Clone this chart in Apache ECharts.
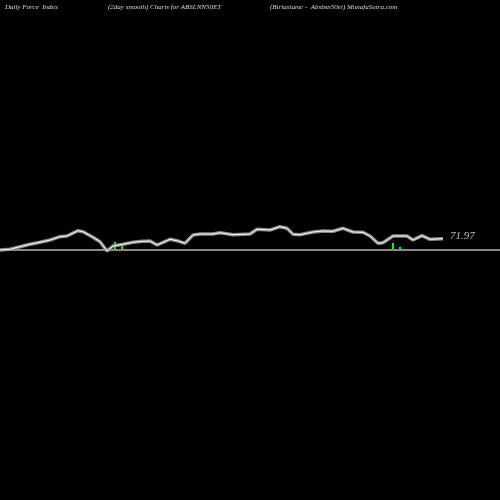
<!DOCTYPE html><html><head><meta charset="utf-8"><script src="https://cdn.jsdelivr.net/npm/echarts@6/dist/echarts.min.js"></script></head><body style="margin:0;background:#000"><div id="c" style="width:500px;height:500px"></div><script>
const xs=[0,10,20,30,40,50,60,67,78,83,93,100,107,113,123,133,143,150,157,170,177,185,193,200,213,220,233,250,257,270,280,287,293,300,313,323,333,343,353,363,370,378,383,393,407,413,422,430,443];
const zs=[150,148,140,133,127,120,110,108,92,95,112,125,153,138,133,127,124,123,135,118,122,130,105,102,102,98,104,102,88,90,80,85,103,104,96,93,94,85,96,97,108,130,128,108,108,120,107,118,116];
const vals=zs.map(z=>+(50-z/3).toFixed(1));
const barX=[115,122,393,400], barV=[8,4,7,3];
const c=echarts.init(document.getElementById('c'));
const t=(x,txt)=>({type:'text',left:x,top:4,style:{text:txt,fill:'#ddd',font:'italic 7px "Liberation Serif"'}});
c.setOption({backgroundColor:'#000',animation:false,
graphic:[t(5,'Daily Force  Index'),t(108,'(2day smooth) Charts for ABSLNN50ET'),t(270,'(Birlaslamc -  Absbsn50et) MunafaSutra.com'),
{type:'text',left:450,top:231,style:{text:'71.97',fill:'#bbb',font:'italic 11px "Liberation Serif"'}}],
grid:{left:0,right:0,top:0,bottom:0},
xAxis:{type:'value',min:0,max:500,show:false},
yAxis:{type:'value',min:-250,max:250,show:false},
series:[
{type:'line',data:[[0,0],[500,0]],symbol:'none',lineStyle:{color:'#888',width:2}},
{type:'bar',data:barX.map((x,i)=>[x,barV[i]]),barWidth:2,itemStyle:{color:'#0f0'}},
{type:'line',data:xs.map((x,i)=>[x,vals[i]]),symbol:'none',lineStyle:{color:'#888',width:3.5}},
{type:'line',data:xs.map((x,i)=>[x,vals[i]]),symbol:'none',lineStyle:{color:'#fff',width:1}}
]});
</script></body></html>
